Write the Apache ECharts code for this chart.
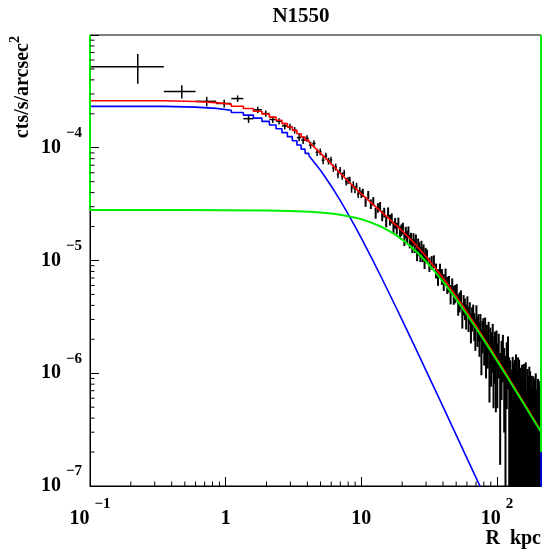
<!DOCTYPE html>
<html><head><meta charset="utf-8">
<script src="https://cdn.jsdelivr.net/npm/echarts@6/dist/echarts.min.js"></script>
<style>html,body{margin:0;padding:0;background:#fff;}#c{width:544px;height:555px;}</style>
</head><body><div id="c"></div>
<script>
// ---------- axis ranges / ticks ----------
const X_MIN = 0.1, X_MAX = 211, Y_MIN = 1e-7, Y_MAX = 1e-3;
const xMinorTicks = [0.2,0.3,0.4,0.5,0.6,0.7,0.8,0.9,2,3,4,5,6,7,8,9,20,30,40,50,60,70,80,90,200];
const yMinorTicks = [2e-7,3e-7,4e-7,5e-7,6e-7,7e-7,8e-7,9e-7,2e-6,3e-6,4e-6,5e-6,6e-6,7e-6,8e-6,9e-6,
  2e-5,3e-5,4e-5,5e-5,6e-5,7e-5,8e-5,9e-5,2e-4,3e-4,4e-4,5e-4,6e-4,7e-4,8e-4,9e-4];

// ---------- data points (R kpc, surface brightness, error) ----------
const binHalfWidth = 0.125;
const dataR = [0.225,0.475,0.725,0.975,1.225,1.475,1.725,1.975,2.225,2.475,2.725,2.975,3.225,3.475,
  3.725,3.975,4.225,4.475,4.725,4.975,5.225,5.475,5.725,5.975,6.225,6.475,6.725,6.975,7.225,7.475,7.725,7.975,8.225,8.475,8.725,8.975,9.225,9.475,9.725,9.975,
  10.25,10.75,11.25,11.75,12.25,12.75,13.25,13.75,14.25,14.75,15.25,15.75,16.25,16.75,17.25,17.75,18.25,18.75,19.25,19.75,
  20.25,20.75,21.25,21.75,22.25,22.75,23.25,23.75,24.25,24.75,25.25,25.75,26.25,26.75,27.25,27.75,28.25,28.75,29.25,29.75,
  30.5,31.75,33,34.25,35.5,36.75,38,39.25,40.5,41.75,43,44.25,45.5,46.75,48,49.25,50.5,51.75,53,54.25,55.5,56.75,58,59.25,
  60.5,61.75,63,64.25,65.5,66.75,68,69.25,70.5,71.75,73,74.25,75.5,76.75,78,79.25,80.5,81.75,83,84.25,85.5,86.75,88,89.25,
  90.5,91.75,93,94.25,95.5,96.75,98,99.25,
  100.5,103,105.5,108,110.5,113,115.5,118,120.5,123,125.5,128,130.5,133,135.5,138,140.5,143,145.5,148,150.5,153,155.5,158,
  160.5,163,165.5,168,170.5,173,175.5,178,180.5,183,185.5,188,190.5,193,195.5,198,200.5,203,205.5,208,210.5];
const dataVal = [5.24e-4,3.16e-4,2.58e-4,2.47e-4,2.73e-4,1.81e-4,2.17e-4,2.01e-4,1.78e-4,1.72e-4,1.56e-4,1.53e-4,1.43e-4,1.23e-4,
  1.169e-4,1.210e-4,1.056e-4,1.092e-4,9.11e-5,9.21e-5,7.75e-5,8.46e-5,7.62e-5,7.80e-5,6.60e-5,6.75e-5,5.81e-5,6.33e-5,5.61e-5,5.97e-5,5.01e-5,5.12e-5,5.18e-5,4.34e-5,4.70e-5,4.28e-5,4.57e-5,3.89e-5,4.18e-5,3.87e-5,
  3.99e-5,3.32e-5,3.82e-5,3.17e-5,3.35e-5,2.64e-5,2.94e-5,3.02e-5,2.50e-5,2.67e-5,2.23e-5,2.70e-5,2.29e-5,2.37e-5,1.97e-5,2.15e-5,1.93e-5,2.17e-5,1.78e-5,1.87e-5,
  1.94e-5,1.56e-5,1.78e-5,1.63e-5,1.80e-5,1.48e-5,1.56e-5,1.36e-5,1.55e-5,1.35e-5,1.51e-5,1.17e-5,1.38e-5,1.27e-5,1.15e-5,1.32e-5,1.14e-5,1.22e-5,1.01e-5,1.13e-5,
  1.11e-5,9.27e-6,9.62e-6,9.81e-6,8.17e-6,7.17e-6,8.18e-6,7.24e-6,6.47e-6,7.39e-6,6.11e-6,6.25e-6,5.07e-6,5.95e-6,5.01e-6,5.12e-6,5.28e-6,4.13e-6,4.34e-6,4.57e-6,3.34e-6,4.09e-6,3.78e-6,3.25e-6,
  4.02e-6,3.10e-6,3.49e-6,2.60e-6,3.09e-6,3.31e-6,2.67e-6,2.31e-6,3.27e-6,2.44e-6,2.62e-6,2.11e-6,2.64e-6,1.67e-6,2.20e-6,2.38e-6,1.86e-6,2.43e-6,1.59e-6,2.00e-6,1.78e-6,2.18e-6,1.23e-6,1.87e-6,
  1.43e-6,1.66e-6,2.07e-6,1.15e-6,1.47e-6,1.67e-6,1.12e-6,1.72e-6,
  1.16e-6,1.57e-6,8.34e-7,1.26e-6,1.51e-6,9.88e-7,7.36e-7,1.18e-6,1.42e-6,6.86e-7,6.2e-7,3.74e-7,7.0e-7,5.6e-7,6.39e-7,7.3e-7,3.93e-7,7.32e-7,6.6e-7,5.00e-7,3.03e-7,5.9e-7,5.65e-7,6.1e-7,
  3.39e-7,6.50e-7,1.87e-7,5.4e-7,4.45e-7,6.04e-7,5.2e-7,2.43e-7,4.89e-7,2.96e-7,4.7e-7,1.46e-7,4.64e-7,5.38e-7,2.96e-7,1.63e-7,4.5e-7,3.74e-7,2.05e-7,4.58e-7,2.70e-7];
const dataErr = [1.55e-4,4.3e-5,2.5e-5,2.0e-5,1.8e-5,1.5e-5,1.4e-5,1.3e-5,1.2e-5,1.1e-5,1.05e-5,1.0e-5,9.5e-6,9.0e-6,
  8.7e-6,8.1e-6,7.6e-6,7.2e-6,6.8e-6,6.4e-6,6.0e-6,5.7e-6,5.4e-6,5.1e-6,4.9e-6,4.7e-6,4.5e-6,4.3e-6,4.1e-6,4.0e-6,3.8e-6,3.7e-6,3.6e-6,3.5e-6,3.4e-6,3.3e-6,3.2e-6,3.1e-6,3.0e-6,2.95e-6,
  3.4e-6,3.3e-6,3.2e-6,3.1e-6,3.0e-6,2.9e-6,2.85e-6,2.8e-6,2.7e-6,2.65e-6,2.6e-6,2.55e-6,2.5e-6,2.45e-6,2.4e-6,2.35e-6,2.3e-6,2.3e-6,2.25e-6,2.2e-6,
  2.2e-6,2.15e-6,2.1e-6,2.1e-6,2.05e-6,2.0e-6,2.0e-6,1.95e-6,1.95e-6,1.9e-6,1.9e-6,1.85e-6,1.85e-6,1.8e-6,1.8e-6,1.75e-6,1.75e-6,1.7e-6,1.7e-6,1.65e-6,
  1.38e-6,1.35e-6,1.32e-6,1.30e-6,1.23e-6,1.21e-6,1.18e-6,1.16e-6,1.10e-6,1.08e-6,1.06e-6,1.04e-6,9.9e-7,9.8e-7,9.6e-7,9.4e-7,9.0e-7,8.9e-7,8.8e-7,8.6e-7,8.5e-7,8.4e-7,8.2e-7,8.1e-7,
  7.9e-7,7.8e-7,7.7e-7,7.6e-7,7.5e-7,7.5e-7,7.4e-7,7.3e-7,7.3e-7,7.3e-7,7.2e-7,7.1e-7,7.1e-7,7.1e-7,7.0e-7,7.0e-7,6.9e-7,6.9e-7,6.9e-7,6.9e-7,6.8e-7,6.8e-7,6.8e-7,6.7e-7,
  6.7e-7,6.6e-7,6.7e-7,6.6e-7,6.6e-7,6.7e-7,6.7e-7,6.7e-7,
  6.7e-7,6.7e-7,6.8e-7,6.8e-7,6.8e-7,6.9e-7,6.9e-7,7.0e-7,7.0e-7,7.0e-7,6.8e-7,7.0e-7,7.0e-7,6.9e-7,6.8e-7,7.4e-7,6.6e-7,6.5e-7,6.6e-7,6.2e-7,6.0e-7,6.0e-7,5.7e-7,6.0e-7,
  5.5e-7,6.0e-7,5.2e-7,5.5e-7,5.0e-7,5.4e-7,5.2e-7,4.7e-7,4.6e-7,4.5e-7,4.7e-7,4.4e-7,4.3e-7,4.6e-7,4.2e-7,4.15e-7,4.4e-7,4.05e-7,4.0e-7,4.0e-7,4.0e-7];

// ---------- model histograms ----------
const stepEdges = [0.1,0.35,0.6,0.85,1.1,1.35,1.6,1.85,2.1,2.35,2.6,2.85,3.1,3.35,3.6,3.85,4.1];
const redStep  = [2.609e-4,2.573e-4,2.513e-4,2.433e-4,2.335e-4,2.227e-4,2.110e-4,1.990e-4,1.869e-4,1.751e-4,1.637e-4,1.529e-4,1.426e-4,1.331e-4,1.244e-4,1.163e-4];
const blueStep = [2.329e-4,2.293e-4,2.233e-4,2.153e-4,2.056e-4,1.948e-4,1.832e-4,1.712e-4,1.592e-4,1.474e-4,1.361e-4,1.254e-4,1.152e-4,1.058e-4,9.72e-5,8.92e-5];
const tailR    = [4.1,5,6,7,8,9,10,12,14,16,18,20,23,26,30,35,40,45,50,60,70,80,90,100,120,140,160,180,200,211];
const redTail  = [1.125e-4,8.97e-5,7.19e-5,5.94e-5,5.05e-5,4.40e-5,3.90e-5,3.19e-5,2.71e-5,2.35e-5,2.06e-5,1.83e-5,1.55e-5,1.32e-5,1.085e-5,8.64e-6,7.01e-6,5.77e-6,4.82e-6,3.50e-6,2.64e-6,2.05e-6,1.64e-6,1.34e-6,9.40e-7,6.95e-7,5.34e-7,4.22e-7,3.43e-7,3.08e-7];
const blueTail = [8.54e-5,6.31e-5,4.58e-5,3.40e-5,2.58e-5,1.996e-5,1.576e-5,1.032e-5,7.14e-6,5.15e-6,3.85e-6,2.96e-6,2.08e-6,1.524e-6,1.057e-6,7.12e-7,5.05e-7,3.72e-7,2.84e-7,1.77e-7,1.187e-7,8.40e-8,6.19e-8,4.71e-8,2.94e-8,1.97e-8,1.39e-8,1.02e-8,7.8e-9,6.8e-9];
const greenR    = [0.1,0.5,1,2,3,4.1,5,6,7,8,9,10,12,14,16,18,20,23,26,30,35,40,45,50,60,70,80,90,100,120,140,160,180,200,211];
const greenVals = [2.800e-5,2.799e-5,2.794e-5,2.777e-5,2.749e-5,2.706e-5,2.663e-5,2.606e-5,2.543e-5,2.473e-5,2.399e-5,2.321e-5,2.158e-5,1.993e-5,1.831e-5,1.677e-5,1.533e-5,1.338e-5,1.168e-5,9.79e-6,7.93e-6,6.50e-6,5.40e-6,4.54e-6,3.32e-6,2.52e-6,1.969e-6,1.579e-6,1.293e-6,9.11e-7,6.75e-7,5.20e-7,4.12e-7,3.35e-7,3.01e-7];
const greenLastBin = 2.0e-7;

// ---------- build ----------
const FONT = 'Liberation Serif';
const RED = '#ff0000', BLUE = '#0000ff', GREEN = '#00ee00';

function expOf(v) { const l = Math.log10(v); const e = Math.round(l); return Math.abs(l - e) < 1e-6 ? e : null; }
function supText(e) { return '{b|10}{s|' + (e < 0 ? '\u2212' : '') + Math.abs(e) + '}'; }
const labelRich = {
  b: { fontFamily: FONT, fontWeight: 'bold', fontSize: 20, lineHeight: 44, color: '#000' },
  s: { fontFamily: FONT, fontWeight: 'bold', fontSize: 15, lineHeight: 15, color: '#000', verticalAlign: 'top', padding: [0, 0, 0, 5] }
};

function stepData(vals) {
  const d = [[stepEdges[0], Y_MAX]];
  for (let i = 0; i < vals.length; i++) d.push([stepEdges[i], vals[i]]);
  return d;
}
const redStepData = stepData(redStep); redStepData.push([tailR[0], redTail[0]]);
const blueStepData = stepData(blueStep); blueStepData.push([tailR[0], blueTail[0]]);
const redTailData = tailR.map((r, i) => [r, redTail[i]]).concat([[X_MAX, Y_MAX]]);
const blueTailData = tailR.map((r, i) => [r, blueTail[i]]).concat([[X_MAX, Y_MAX]]);
const greenData = [[greenR[0], Y_MAX]].concat(greenR.map((r, i) => [r, greenVals[i]]), [[X_MAX, greenLastBin], [X_MAX, Y_MAX]]);
const pointsData = dataR.map((r, i) => [r, dataVal[i], dataErr[i]]);

function renderErr(params, api) {
  const cs = params.coordSys;
  const x0 = cs.x, x1 = cs.x + cs.width, y0 = cs.y, y1 = cs.y + cs.height;
  const cy = y => Math.min(y1, Math.max(y0, y));
  const cx = x => Math.min(x1, Math.max(x0, x));
  const r = api.value(0), v = api.value(1), e = api.value(2);
  const lo = v - e > 0 ? v - e : Y_MIN * 1e-3;
  const pT = api.coord([r, v + e]), pB = api.coord([r, lo]);
  const pL = api.coord([r - binHalfWidth, v]), pR = api.coord([r + binHalfWidth, v]);
  const st = { stroke: '#000', lineWidth: r >= 10 ? 2 : 1.5 };
  const ch = [{ type: 'line', shape: { x1: pT[0], y1: cy(pT[1]), x2: pT[0], y2: cy(pB[1]) }, style: st }];
  if (pL[1] >= y0 && pL[1] <= y1) ch.push({ type: 'line', shape: { x1: cx(pL[0]), y1: pL[1], x2: cx(pR[0]), y2: pL[1] }, style: st });
  return { type: 'group', children: ch };
}
function renderXMinor(params, api) {
  const p = api.coord([api.value(0), Y_MIN]);
  return { type: 'line', shape: { x1: p[0], y1: p[1], x2: p[0], y2: p[1] - 4.5 }, style: { stroke: '#000', lineWidth: 1 } };
}
function renderYMinor(params, api) {
  const p = api.coord([X_MIN, api.value(1)]);
  return { type: 'line', shape: { x1: p[0], y1: p[1], x2: p[0] + 4.5, y2: p[1] }, style: { stroke: '#000', lineWidth: 1 } };
}

const chart = echarts.init(document.getElementById('c'), null, { renderer: 'canvas' });
chart.setOption({
  animation: false,
  backgroundColor: '#fff',
  textStyle: { fontFamily: FONT },
  grid: { left: 90, top: 35, width: 451, height: 451, show: true, borderColor: '#000', borderWidth: 1, backgroundColor: 'transparent', containLabel: false, outerBoundsMode: 'none' },
  xAxis: {
    type: 'log', logBase: 10, min: X_MIN, max: X_MAX,
    axisLine: { show: true, lineStyle: { color: '#000', width: 1 } },
    axisTick: { show: true, inside: true, length: 9, lineStyle: { color: '#000', width: 1 } },
    minorTick: { show: false }, splitLine: { show: false },
    axisLabel: {
      interval: 0, margin: 11, color: '#000', rich: labelRich,
      formatter: v => { const e = expOf(v); if (e === null) return ''; if (e === 0) return '{b|1}'; if (e === 1) return '{b|10}'; return supText(e); }
    }
  },
  yAxis: {
    type: 'log', logBase: 10, min: Y_MIN, max: Y_MAX,
    axisLine: { show: true, lineStyle: { color: '#000', width: 1 } },
    axisTick: { show: true, inside: true, length: 9, lineStyle: { color: '#000', width: 1 } },
    minorTick: { show: false }, splitLine: { show: false },
    axisLabel: {
      interval: 0, margin: 8, color: '#000', rich: labelRich,
      formatter: v => { const e = expOf(v); if (e === null || e === -3) return ''; return supText(e); }
    }
  },
  graphic: [
    { type: 'text', x: 301, y: 17, z: 100, style: { text: 'N1550', fontFamily: FONT, fontWeight: 'bold', fontSize: 21, fill: '#000', align: 'center', verticalAlign: 'middle', textAlign: 'center', textVerticalAlign: 'middle' } },
    { type: 'text', x: 541, y: 539, z: 100, style: { text: 'R  kpc', fontFamily: FONT, fontWeight: 'bold', fontSize: 20, fill: '#000', align: 'right', verticalAlign: 'middle', textAlign: 'right', textVerticalAlign: 'middle' } },
    { type: 'text', x: 23, y: 36, z: 100, rotation: Math.PI / 2,
      style: { text: '{m|cts/s/arcsec}{s|2}', fill: '#000', align: 'right', verticalAlign: 'middle', textAlign: 'right', textVerticalAlign: 'middle',
        rich: { m: { fontFamily: FONT, fontWeight: 'bold', fontSize: 20, lineHeight: 30, fill: '#000' },
                s: { fontFamily: FONT, fontWeight: 'bold', fontSize: 14, lineHeight: 14, verticalAlign: 'top', fill: '#000' } } } }
  ],
  series: [
    { type: 'custom', name: 'data', renderItem: renderErr, data: pointsData, encode: { x: 0, y: 1 }, z: 2, silent: true },
    { type: 'line', name: 'blueStep', data: blueStepData, step: 'end', showSymbol: false, lineStyle: { color: BLUE, width: 1.6 }, z: 3, silent: true },
    { type: 'line', name: 'blueTail', data: blueTailData, showSymbol: false, lineStyle: { color: BLUE, width: 1.6 }, z: 3, silent: true },
    { type: 'line', name: 'redStep', data: redStepData, step: 'end', showSymbol: false, lineStyle: { color: RED, width: 1.6 }, z: 4, silent: true },
    { type: 'line', name: 'redTail', data: redTailData, showSymbol: false, lineStyle: { color: RED, width: 1.6 }, z: 4, silent: true },
    { type: 'line', name: 'green', data: greenData, clip: false, showSymbol: false, lineStyle: { color: GREEN, width: 2 }, z: 5, silent: true },
    { type: 'custom', name: 'xminor', renderItem: renderXMinor, data: xMinorTicks.map(v => [v, Y_MIN]), encode: { x: 0, y: 1 }, z: 6, silent: true },
    { type: 'custom', name: 'yminor', renderItem: renderYMinor, data: yMinorTicks.map(v => [X_MIN, v]), encode: { x: 0, y: 1 }, z: 6, silent: true }
  ]
});
</script>
</body></html>
